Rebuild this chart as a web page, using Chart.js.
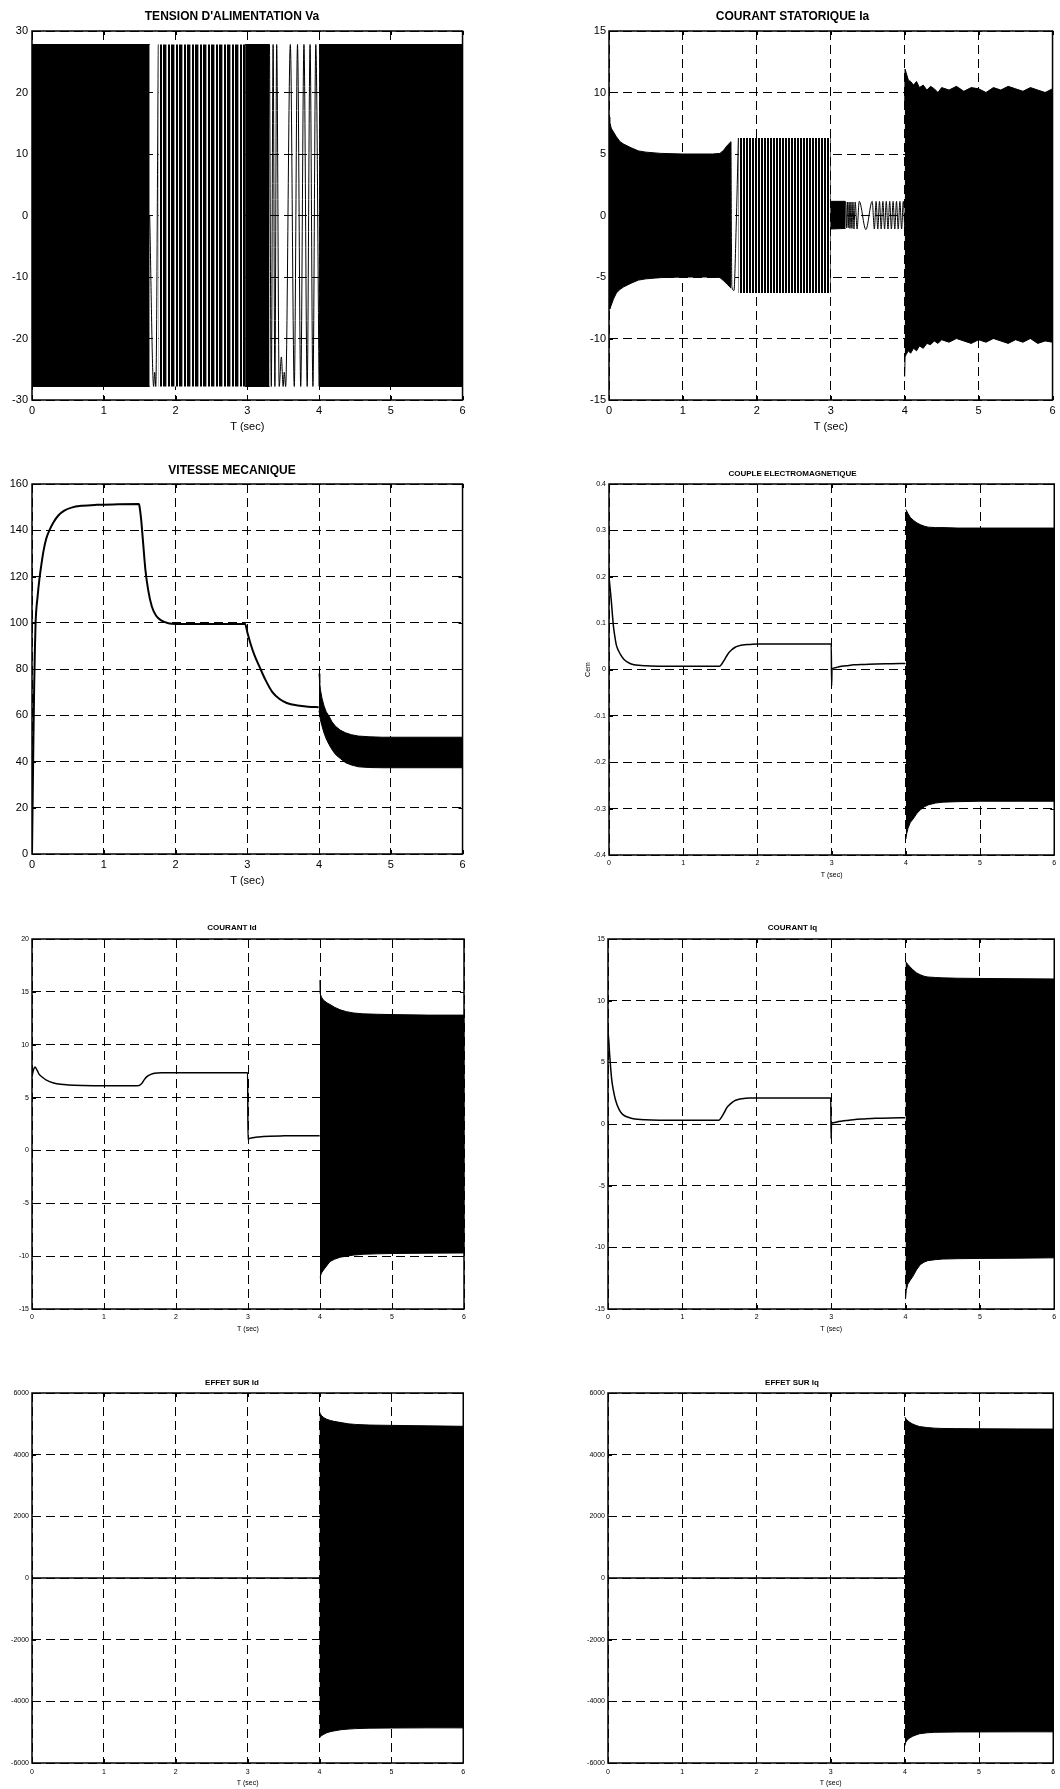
<!DOCTYPE html>
<html>
<head>
<meta charset="utf-8">
<script src="https://cdn.jsdelivr.net/npm/chart.js@4.4.1/dist/chart.umd.min.js"></script>
<style>
    html, body { margin: 0; padding: 0; background: #fff; }
    body { width: 1060px; height: 1789px; position: relative; overflow: hidden; }
    canvas { position: absolute; }
</style>
</head>
<body>
<script>
// ---- tick labels ----
const T_TICKS = [0, 1, 2, 3, 4, 5, 6];
const VA_TICKS = [-30, -20, -10, 0, 10, 20, 30];
const IA_TICKS = [-15, -10, -5, 0, 5, 10, 15];
const W_TICKS = [0, 20, 40, 60, 80, 100, 120, 140, 160];
const CEM_TICKS = [-0.4, -0.3, -0.2, -0.1, 0, 0.1, 0.2, 0.3, 0.4];
const ID_TICKS = [-15, -10, -5, 0, 5, 10, 15, 20];
const IQ_TICKS = [-15, -10, -5, 0, 5, 10, 15];
const EFF_TICKS = [-6000, -4000, -2000, 0, 2000, 4000, 6000];

// ---- Va : supply voltage (dense parts given as envelopes) ----
const va_solid1_t = [0, 1.64];
const va_solid1_up = [27.8, 27.8];
const va_solid1_lo = [-27.8, -27.8];
const va_striped_t = [1.76, 2.97];
const va_striped_up = [27.8, 27.8];
const va_striped_lo = [-27.8, -27.8];
const va_solid2_t = [2.97, 3.31];
const va_solid2_up = [27.8, 27.8];
const va_solid2_lo = [-27.8, -27.8];
const va_solid3_t = [4.0, 6.0];
const va_solid3_up = [27.8, 27.8];
const va_solid3_lo = [-27.8, -27.8];
const va_gap1_t = [1.64, 1.695, 1.71, 1.725, 1.76];
const va_gap1_v = [0, -27.8, -25.5, -27.8, 27.8];
const va_gap2_t = [3.31, 3.335, 3.36, 3.385, 3.41, 3.445, 3.475, 3.50, 3.515, 3.535, 3.60, 3.655, 3.70, 3.745, 3.79, 3.835, 3.875, 3.915, 3.955, 4.0];
const va_gap2_v = [27.8, -27.8, 27.8, -27.8, 27.8, -27.8, -23, -27.8, -25.5, -27.8, 27.8, -27.8, 27.8, -27.8, 27.8, -27.8, 27.8, -27.8, 27.8, -27.8];

// ---- Ia : stator current ----
const ia_env1_t = [0, 0.01, 0.03, 0.06, 0.1, 0.15, 0.2, 0.3, 0.4, 0.5, 0.7, 1.0, 1.4, 1.5, 1.55, 1.6, 1.65];
const ia_env1_up = [8.0, 7.6, 7.1, 6.8, 6.4, 6.0, 5.8, 5.5, 5.25, 5.15, 5.05, 5.0, 5.0, 5.05, 5.3, 5.7, 6.0];
const ia_env1_lo = [-5.0, -7.6, -7.3, -6.8, -6.3, -6.0, -5.8, -5.5, -5.25, -5.15, -5.05, -5.0, -5.0, -5.05, -5.3, -5.6, -5.9];
const ia_gap1_t = [1.65, 1.662, 1.69, 1.72, 1.75];
const ia_gap1_v = [6.0, -5.8, -6.1, -1.0, 6.3];
const ia_striped_t = [1.75, 3.0];
const ia_striped_up = [6.3, 6.3];
const ia_striped_lo = [-6.3, -6.3];
const ia_env2_t = [3.0, 3.2];
const ia_env2_up = [1.15, 1.15];
const ia_env2_lo = [-1.1, -1.05];
const ia_wave_t = [3.2, 3.212, 3.224, 3.236, 3.248, 3.26, 3.273, 3.286, 3.3, 3.314, 3.33, 3.356, 3.385, 3.475, 3.56, 3.59, 3.613, 3.636, 3.659, 3.682, 3.705, 3.728, 3.751, 3.774, 3.797, 3.82, 3.843, 3.866, 3.889, 3.912, 3.935, 3.958, 3.981, 4.0];
const ia_wave_v = [1.1, -1.0, 1.1, -1.0, 1.1, -1.05, 1.1, -1.05, 1.1, -1.1, 1.1, -1.1, 1.15, -1.15, 1.15, -1.1, 1.15, -1.1, 1.15, -1.1, 1.15, -1.1, 1.15, -1.1, 1.15, -1.1, 1.15, -1.1, 1.15, -1.1, 1.15, -1.1, 1.15, -1.1];
const ia_env3_t = [4.0, 4.005, 4.02, 4.05, 4.08, 4.12, 4.16, 4.2, 4.25, 4.3, 4.35, 4.4, 4.45, 4.5, 4.6, 4.7, 4.8, 4.9, 5.0, 5.1, 5.2, 5.3, 5.4, 5.5, 5.6, 5.7, 5.8, 5.9, 6.0];
const ia_env3_up = [9.0, 11.9, 11.6, 11.0, 10.9, 10.6, 10.9, 10.4, 10.6, 10.2, 10.5, 10.3, 10.0, 10.4, 10.2, 10.5, 10.1, 10.4, 10.3, 10.0, 10.4, 10.2, 10.5, 10.3, 10.1, 10.4, 10.2, 10.0, 10.3];
const ia_env3_lo = [-13.1, -11.5, -11.3, -11.0, -11.2, -10.8, -11.0, -10.6, -10.8, -10.4, -10.5, -10.2, -10.4, -10.1, -10.3, -10.0, -10.2, -10.4, -10.1, -10.3, -10.0, -10.2, -10.4, -10.1, -10.3, -10.0, -10.4, -10.2, -10.3];

// ---- mechanical speed ----
const w_t = [0, 0.01, 0.02, 0.03, 0.04, 0.05, 0.08, 0.1, 0.13, 0.16, 0.2, 0.25, 0.3, 0.37, 0.45, 0.55, 0.7, 0.9, 1.2, 1.49, 1.5, 1.52, 1.55, 1.58, 1.62, 1.67, 1.73, 1.8, 1.9, 2.0, 2.5, 2.97, 3.0, 3.05, 3.1, 3.17, 3.25, 3.35, 3.45, 3.55, 3.7, 3.85, 3.995];
const w_v = [0, 25, 50, 72, 88, 100, 112, 118, 125, 131, 136.5, 140.5, 143.5, 146.5, 148.5, 149.8, 150.6, 151, 151.2, 151.3, 150, 145, 134, 123, 114, 107, 103, 101, 99.8, 99.5, 99.5, 99.5, 96, 90.5, 86, 81, 75.5, 70, 67, 65.3, 64.2, 63.7, 63.5];
const w_env_t = [4.0, 4.01, 4.02, 4.04, 4.07, 4.1, 4.14, 4.18, 4.23, 4.3, 4.37, 4.45, 4.55, 4.7, 4.88, 5.2, 5.6, 6.0];
const w_env_up = [78, 74, 71, 67.5, 64, 61.5, 59.6, 57.2, 55.2, 53.5, 52.4, 51.6, 51, 50.7, 50.5, 50.5, 50.5, 50.5];
const w_env_lo = [62, 60, 58, 55.5, 52.3, 49.8, 47.3, 45.2, 43, 41.2, 39.5, 38.5, 37.7, 37.4, 37.3, 37.3, 37.3, 37.3];

// ---- electromagnetic torque ----
const cem_t = [0, 0.015, 0.03, 0.045, 0.06, 0.08, 0.1, 0.13, 0.16, 0.2, 0.25, 0.3, 0.4, 0.5, 0.7, 1.0, 1.3, 1.49, 1.52, 1.56, 1.6, 1.65, 1.7, 1.75, 1.8, 1.9, 2.0, 2.5, 2.995, 3.0, 3.005, 3.05, 3.1, 3.2, 3.3, 3.45, 3.6, 3.8, 3.995];
const cem_v = [0.2, 0.175, 0.15, 0.12, 0.093, 0.07, 0.052, 0.04, 0.031, 0.022, 0.016, 0.012, 0.009, 0.008, 0.007, 0.007, 0.007, 0.007, 0.012, 0.022, 0.033, 0.042, 0.048, 0.051, 0.053, 0.054, 0.055, 0.055, 0.055, -0.035, 0.001, 0.004, 0.006, 0.008, 0.010, 0.011, 0.012, 0.0125, 0.013];
const cem_env_t = [4.0, 4.01, 4.03, 4.06, 4.1, 4.15, 4.2, 4.25, 4.3, 4.4, 4.5, 4.7, 5.0, 5.5, 6.0];
const cem_env_up = [0.345, 0.342, 0.336, 0.328, 0.322, 0.316, 0.312, 0.309, 0.307, 0.306, 0.306, 0.305, 0.305, 0.305, 0.305];
const cem_env_lo = [-0.366, -0.355, -0.342, -0.33, -0.322, -0.31, -0.302, -0.296, -0.292, -0.288, -0.286, -0.285, -0.284, -0.284, -0.284];

// ---- Id ----
const id_t = [0, 0.02, 0.04, 0.07, 0.1, 0.15, 0.2, 0.3, 0.4, 0.5, 0.7, 1.0, 1.3, 1.49, 1.52, 1.56, 1.6, 1.65, 1.7, 1.8, 2.0, 2.5, 2.995, 3.0, 3.01, 3.05, 3.15, 3.3, 3.5, 3.75, 3.995];
const id_v = [7.0, 7.6, 7.9, 7.6, 7.2, 6.9, 6.65, 6.38, 6.25, 6.2, 6.15, 6.12, 6.12, 6.15, 6.3, 6.7, 7.0, 7.2, 7.3, 7.35, 7.35, 7.35, 7.35, 1.0, 1.08, 1.18, 1.28, 1.35, 1.38, 1.4, 1.4];
const id_env_t = [4.0, 4.005, 4.02, 4.05, 4.1, 4.14, 4.2, 4.28, 4.37, 4.47, 4.6, 4.8, 5.0, 5.5, 6.0];
const id_env_up = [16.1, 14.8, 14.5, 14.2, 13.95, 13.8, 13.55, 13.3, 13.12, 13.0, 12.92, 12.88, 12.85, 12.8, 12.8];
const id_env_lo = [-12.1, -11.9, -11.6, -11.3, -10.85, -10.5, -10.3, -10.1, -10.0, -9.9, -9.82, -9.78, -9.75, -9.72, -9.7];

// ---- Iq ----
const iq_t = [0, 0.01, 0.02, 0.035, 0.05, 0.07, 0.1, 0.15, 0.2, 0.3, 0.4, 0.5, 0.7, 1.0, 1.3, 1.49, 1.52, 1.56, 1.6, 1.65, 1.7, 1.75, 1.8, 1.9, 2.0, 2.5, 2.995, 3.0, 3.005, 3.05, 3.1, 3.2, 3.3, 3.45, 3.6, 3.8, 3.995];
const iq_v = [7.5, 6.8, 5.8, 4.6, 3.6, 2.8, 1.97, 1.16, 0.76, 0.49, 0.38, 0.34, 0.31, 0.3, 0.3, 0.3, 0.5, 0.9, 1.35, 1.65, 1.88, 1.98, 2.05, 2.1, 2.1, 2.1, 2.1, -1.2, 0.05, 0.13, 0.2, 0.28, 0.35, 0.41, 0.46, 0.49, 0.5];
const iq_env_t = [4.0, 4.01, 4.03, 4.06, 4.1, 4.15, 4.2, 4.25, 4.3, 4.4, 4.5, 4.7, 5.0, 5.5, 6.0];
const iq_env_up = [13.2, 13.1, 12.95, 12.75, 12.5, 12.25, 12.1, 11.98, 11.92, 11.88, 11.85, 11.82, 11.8, 11.78, 11.76];
const iq_env_lo = [-14.2, -13.5, -13.0, -12.7, -12.35, -11.8, -11.4, -11.2, -11.08, -11.0, -10.95, -10.92, -10.9, -10.88, -10.85];

// ---- effect on Id / Iq ----
const effd_t = [0, 4.0];
const effd_v = [0, 0];
const effd_env_t = [4.0, 4.01, 4.03, 4.06, 4.1, 4.15, 4.2, 4.3, 4.4, 4.5, 4.7, 5.0, 5.5, 6.0];
const effd_env_up = [5400, 5330, 5260, 5200, 5150, 5110, 5080, 5040, 5000, 4980, 4960, 4950, 4935, 4920];
const effd_env_lo = [-5190, -5150, -5110, -5070, -5020, -4985, -4960, -4920, -4900, -4885, -4870, -4865, -4860, -4860];
const effq_t = [0, 4.0];
const effq_v = [0, 0];
const effq_env_t = [4.0, 4.01, 4.03, 4.06, 4.1, 4.15, 4.2, 4.3, 4.4, 4.5, 4.7, 5.0, 5.5, 6.0];
const effq_env_up = [5220, 5180, 5120, 5060, 5000, 4950, 4910, 4880, 4860, 4850, 4845, 4840, 4835, 4830];
const effq_env_lo = [-5440, -5340, -5260, -5200, -5140, -5090, -5050, -5020, -5005, -5000, -4995, -4992, -4990, -4990];

const FONT = '"Liberation Sans", Arial, Helvetica, sans-serif';

// vertical stripes used where the trace is dense but not solid
function stripes(cols) {
    const c = document.createElement('canvas');
    c.width = cols.length;
    c.height = 1;
    const g = c.getContext('2d');
    cols.forEach((col, i) => { g.fillStyle = col; g.fillRect(i, 0, 1, 1); });
    return g.createPattern(c, 'repeat');
}

function pts(ts, vs) {
    return ts.map((t, i) => ({ x: t, y: vs[i] }));
}

function line(ts, vs, w, smooth) {
    return {
        data: pts(ts, vs),
        borderColor: '#000',
        borderWidth: w || 1,
        pointRadius: 0,
        fill: false,
        tension: 0,
        cubicInterpolationMode: smooth ? 'monotone' : 'default'
    };
}

// filled band between an upper and a lower envelope
function band(ts, up, lo, fillStyle, edgeColor) {
    const edge = edgeColor || '#000';
    return [
        { data: pts(ts, up), borderColor: edge, borderWidth: 1, pointRadius: 0, fill: '+1', backgroundColor: fillStyle || '#000', tension: 0 },
        { data: pts(ts, lo), borderColor: edge, borderWidth: 1, pointRadius: 0, fill: false, tension: 0 }
    ];
}

// box and inward ticks, matlab style
const frame = {
    id: 'frame',
    afterDatasetsDraw(chart) {
        const { ctx, chartArea: a, scales: { x, y } } = chart;
        ctx.save();
        ctx.setLineDash([]);
        ctx.strokeStyle = '#000';
        ctx.lineWidth = 1;
        ctx.beginPath();
        x.ticks.forEach(t => {
            const px = Math.round(x.getPixelForValue(t.value)) + 0.5;
            ctx.moveTo(px, a.top); ctx.lineTo(px, a.top + 4);
            ctx.moveTo(px, a.bottom); ctx.lineTo(px, a.bottom - 4);
        });
        y.ticks.forEach(t => {
            const py = Math.round(y.getPixelForValue(t.value)) + 0.5;
            ctx.moveTo(a.left, py); ctx.lineTo(a.left + 4, py);
            ctx.moveTo(a.right, py); ctx.lineTo(a.right - 4, py);
        });
        ctx.stroke();
        ctx.lineWidth = 1.5;
        ctx.strokeRect(a.left, a.top, a.right - a.left, a.bottom - a.top);
        ctx.restore();
    }
};

function fmt(v) {
    return String(Math.round(v * 10) / 10);
}

function makePanel(p) {
    const cx = p.l < 500 ? 0 : 530;
    const rp = Math.min(6, 1060 - p.r);
    const ct = Math.round(p.titleY - 4 - 0.6 * p.titleSize);
    const cb = Math.round(p.xTitleY + 0.6 * p.tickSize + 2);
    const W = p.r + rp - cx;
    const H = cb - ct;
    const titlePadBottom = p.t - ct - 4 - 1.2 * p.titleSize;
    const xh = cb - p.b;

    const canvas = document.createElement('canvas');
    canvas.width = W;
    canvas.height = H;
    canvas.style.left = cx + 'px';
    canvas.style.top = ct + 'px';
    canvas.style.width = W + 'px';
    canvas.style.height = H + 'px';
    document.body.appendChild(canvas);

    const tickFont = { family: FONT, size: p.tickSize };

    new Chart(canvas, {
        type: 'line',
        data: { datasets: p.datasets },
        options: {
            responsive: false,
            animation: false,
            devicePixelRatio: 1,
            layout: { padding: { left: 0, right: rp, top: 0, bottom: 0 } },
            plugins: {
                legend: { display: false },
                tooltip: { enabled: false },
                title: {
                    display: true,
                    text: p.title,
                    color: '#000',
                    font: { family: FONT, size: p.titleSize, weight: 'bold' },
                    padding: { top: 4, bottom: titlePadBottom }
                }
            },
            scales: {
                x: {
                    type: 'linear',
                    min: 0,
                    max: 6,
                    afterBuildTicks: s => { s.ticks = T_TICKS.map(v => ({ value: v })); },
                    afterFit: s => { s.height = xh; },
                    grid: { color: '#000', lineWidth: 1, drawTicks: false },
                    border: { display: false, dash: [9, 5] },
                    ticks: {
                        color: '#000',
                        font: tickFont,
                        padding: p.tickY - p.b - 0.6 * p.tickSize,
                        maxRotation: 0,
                        callback: v => fmt(v)
                    },
                    title: {
                        display: true,
                        text: 'T (sec)',
                        color: '#000',
                        font: tickFont,
                        padding: { top: 0, bottom: cb - p.xTitleY - 0.6 * p.tickSize }
                    }
                },
                y: {
                    type: 'linear',
                    min: p.yTicks[0],
                    max: p.yTicks[p.yTicks.length - 1],
                    afterBuildTicks: s => { s.ticks = p.yTicks.map(v => ({ value: v })); },
                    afterFit: s => { s.width = p.l - cx; },
                    grid: { color: '#000', lineWidth: 1, drawTicks: false },
                    border: { display: false, dash: [9, 5] },
                    ticks: {
                        color: '#000',
                        font: tickFont,
                        padding: p.yPad,
                        callback: v => fmt(v)
                    },
                    title: {
                        display: !!p.yLabel,
                        text: p.yLabel || '',
                        color: '#000',
                        font: tickFont,
                        padding: { top: p.yLabelX ? p.yLabelX - cx - 0.6 * p.tickSize : 0, bottom: 0 }
                    }
                }
            }
        },
        plugins: [frame]
    });
}

const vaStripe = stripes(['#000', '#000', '#fff', '#000', '#000', '#000', '#999', '#fff']);
const iaStripe = stripes(['#000', '#000', '#fff']);

const panels = [
    {
        title: "TENSION D'ALIMENTATION Va", l: 32, t: 31, r: 464, b: 400,
        titleY: 16, tickY: 411, xTitleY: 427, titleSize: 12, tickSize: 11, yPad: 4,
        yTicks: VA_TICKS,
        datasets: [
            ...band(va_solid1_t, va_solid1_up, va_solid1_lo),
            ...band(va_striped_t, va_striped_up, va_striped_lo, vaStripe, 'rgba(0,0,0,0)'),
            ...band(va_solid2_t, va_solid2_up, va_solid2_lo),
            ...band(va_solid3_t, va_solid3_up, va_solid3_lo),
            line(va_gap1_t, va_gap1_v, 1, true),
            line(va_gap2_t, va_gap2_v, 1, true)
        ]
    },
    {
        title: 'COURANT STATORIQUE Ia', l: 609, t: 31, r: 1055, b: 400,
        titleY: 16, tickY: 411, xTitleY: 427, titleSize: 12, tickSize: 11, yPad: 3,
        yTicks: IA_TICKS,
        datasets: [
            ...band(ia_env1_t, ia_env1_up, ia_env1_lo),
            ...band(ia_striped_t, ia_striped_up, ia_striped_lo, iaStripe, 'rgba(0,0,0,0)'),
            ...band(ia_env2_t, ia_env2_up, ia_env2_lo),
            ...band(ia_env3_t, ia_env3_up, ia_env3_lo),
            line(ia_gap1_t, ia_gap1_v, 1, true),
            line(ia_wave_t, ia_wave_v, 1, true)
        ]
    },
    {
        title: 'VITESSE MECANIQUE', l: 32, t: 484, r: 464, b: 854,
        titleY: 470, tickY: 865, xTitleY: 881, titleSize: 12, tickSize: 11, yPad: 4,
        yTicks: W_TICKS,
        datasets: [
            ...band(w_env_t, w_env_up, w_env_lo),
            line(w_t, w_v, 2, true)
        ]
    },
    {
        title: 'COUPLE ELECTROMAGNETIQUE', l: 609, t: 484, r: 1055, b: 855,
        titleY: 474, tickY: 863, xTitleY: 875, titleSize: 8, tickSize: 7, yPad: 3,
        yTicks: CEM_TICKS, yLabel: 'Cem', yLabelX: 588,
        datasets: [
            ...band(cem_env_t, cem_env_up, cem_env_lo),
            line(cem_t, cem_v, 1.5, true)
        ]
    },
    {
        title: 'COURANT Id', l: 32, t: 939, r: 464, b: 1309,
        titleY: 928, tickY: 1317, xTitleY: 1329, titleSize: 8, tickSize: 7, yPad: 3,
        yTicks: ID_TICKS,
        datasets: [
            ...band(id_env_t, id_env_up, id_env_lo),
            line(id_t, id_v, 1.5, true)
        ]
    },
    {
        title: 'COURANT Iq', l: 608, t: 939, r: 1055, b: 1309,
        titleY: 928, tickY: 1317, xTitleY: 1329, titleSize: 8, tickSize: 7, yPad: 3,
        yTicks: IQ_TICKS,
        datasets: [
            ...band(iq_env_t, iq_env_up, iq_env_lo),
            line(iq_t, iq_v, 1.5, true)
        ]
    },
    {
        title: 'EFFET SUR Id', l: 32, t: 1393, r: 464, b: 1763,
        titleY: 1383, tickY: 1772, xTitleY: 1783, titleSize: 8, tickSize: 7, yPad: 3,
        yTicks: EFF_TICKS,
        datasets: [
            ...band(effd_env_t, effd_env_up, effd_env_lo),
            line(effd_t, effd_v, 1.5)
        ]
    },
    {
        title: 'EFFET SUR Iq', l: 608, t: 1393, r: 1054, b: 1763,
        titleY: 1383, tickY: 1772, xTitleY: 1783, titleSize: 8, tickSize: 7, yPad: 3,
        yTicks: EFF_TICKS,
        datasets: [
            ...band(effq_env_t, effq_env_up, effq_env_lo),
            line(effq_t, effq_v, 1.5)
        ]
    }
];

panels.forEach(makePanel);
</script>
</body>
</html>
